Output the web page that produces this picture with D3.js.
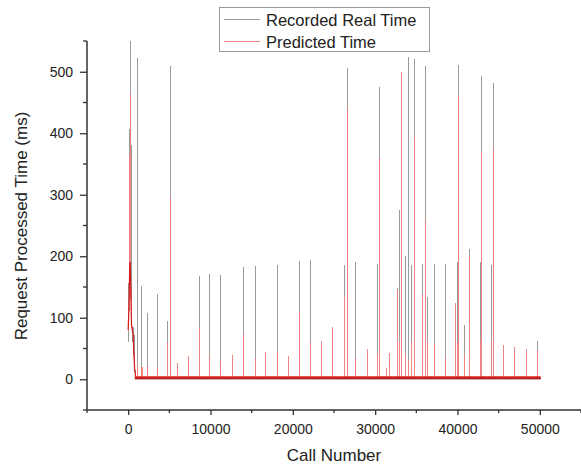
<!DOCTYPE html>
<html>
<head>
<meta charset="utf-8">
<script src="https://cdn.jsdelivr.net/npm/d3@7"></script>
<style>
  html, body { margin: 0; padding: 0; background: #fff; }
  svg { display: block; font-family: "Liberation Sans", Arial, sans-serif; }
</style>
</head>
<body>
<svg id="chart" width="581" height="464"></svg>
<script>
// ---------- data ----------
const seriesNames = ["Recorded Real Time", "Predicted Time"];

// start-up phase (call number, time in ms)
const realStartCalls = [0, 20, 100, 180, 250, 320, 380, 450, 550, 650, 720, 800, 900];
const realStartTimes = [60, 157, 110, 140, 550, 523, 191, 90, 60, 85, 70, 20, 4];
const predStartCalls = [0, 100, 200, 240, 320, 400, 500, 600, 700, 800, 900];
const predStartTimes = [80, 120, 190, 465, 150, 90, 80, 75, 40, 15, 5];

// spikes after start-up
const spikeCalls = [1180, 1580, 1700, 2390, 3560, 4770, 5100, 6050, 7360, 8620, 9910, 11250,
  12730, 14030, 15420, 16740, 18080, 19480, 20790, 22150, 23530, 24870, 26280, 26600,
  27640, 29030, 30340, 30560, 31350, 31760, 32700, 33000, 33200, 33700, 34000, 34400,
  34830, 35770, 36130, 36370, 37260, 38600, 39700, 39950, 40150, 40900, 41400, 42750,
  42950, 44150, 44340, 45580, 46950, 48330, 49700];
const realSpikeTimes = [522, 152, 10, 107, 139, 95, 510, 20, 30, 168, 171, 170,
  32, 183, 184, 35, 186, 30, 192, 194, 50, 60, 185, 506,
  191, 35, 188, 476, 10, 30, 149, 276, 60, 201, 524, 185,
  520, 188, 509, 133, 187, 188, 84, 190, 511, 88, 212, 190,
  493, 185, 481, 40, 38, 36, 63];
const predSpikeTimes = [25, 20, 20, 22, 20, 60, 296, 27, 38, 84, 40, 30,
  40, 75, 35, 45, 45, 38, 110, 62, 62, 85, 133, 443,
  35, 49, 40, 360, 18, 42, 145, 60, 500, 40, 30, 60,
  394, 139, 261, 60, 57, 36, 124, 60, 462, 40, 200, 63,
  370, 60, 378, 55, 52, 49, 47];

const realBase = 2;
const predBase = 3;
const lastCall = 50100;

// baseline noise envelope
const bandCalls = [800, 50100];
const bandLow = [0.5, 0.5];
const bandHigh = [5, 5];

const yTicksMajor = [0, 100, 200, 300, 400, 500];
const xTicksMajor = [0, 10000, 20000, 30000, 40000, 50000];

// ---------- chart ----------
const svg = d3.select("#chart");
const x = d3.scaleLinear().domain([-5000, 55000]).range([87, 581]);
const y = d3.scaleLinear().domain([-50, 550]).range([410, 41]);

function buildSeries(startCalls, startTimes, spikeVals, base) {
  const pts = startCalls.map((c, i) => [c, startTimes[i]]);
  spikeCalls.forEach((c, i) => {
    pts.push([c, base], [c, spikeVals[i]], [c, base]);
  });
  pts.push([lastCall, base]);
  return pts;
}
const realPts = buildSeries(realStartCalls, realStartTimes, realSpikeTimes, realBase);
const predPts = buildSeries(predStartCalls, predStartTimes, predSpikeTimes, predBase);

const line = d3.line().x(d => x(d[0])).y(d => y(d[1]));

const realColor = "#9a9a9a";
const predColor = "#f08484";

svg.append("path").datum(realPts)
  .attr("d", line).attr("fill", "none")
  .attr("stroke", realColor).attr("stroke-width", 1)
  .attr("shape-rendering", "crispEdges");

svg.append("path").datum(predPts)
  .attr("d", line).attr("fill", "none")
  .attr("stroke", predColor).attr("stroke-width", 1)
  .attr("shape-rendering", "crispEdges");

// dense start-up region appears dark red
svg.append("path").datum(predStartCalls.map((c, i) => [c, Math.min(predStartTimes[i], 190)]))
  .attr("d", line).attr("fill", "none")
  .attr("stroke", "#d21a1a").attr("stroke-width", 1.2);

// baseline band
const band = d3.area()
  .x((d, i) => x(bandCalls[i]))
  .y0((d, i) => y(bandLow[i]))
  .y1((d, i) => y(bandHigh[i]));
svg.append("path").datum(bandCalls)
  .attr("d", band).attr("fill", "#d42222");
svg.append("path").datum(bandCalls.map((c) => [c, bandLow[0]]))
  .attr("d", line).attr("fill", "none")
  .attr("stroke", "#901414").attr("stroke-width", 0.8);

// axes
const axisColor = "#333";
const yAxis = d3.axisLeft(y).tickValues(yTicksMajor).tickSize(7).tickPadding(7)
  .tickFormat(d3.format("d"));
const gy = svg.append("g").attr("transform", "translate(87,0)").call(yAxis);
gy.append("g").selectAll("line")
  .data(d3.range(-50, 551, 100))
  .join("line")
  .attr("x1", -4).attr("x2", 0)
  .attr("y1", d => y(d)).attr("y2", d => y(d))
  .attr("stroke", axisColor).attr("stroke-width", 1.3);

const xAxis = d3.axisBottom(x).tickValues(xTicksMajor).tickSize(5).tickPadding(9)
  .tickFormat(d3.format("d"));
const gx = svg.append("g").attr("transform", "translate(0,410)").call(xAxis);
gx.append("g").selectAll("line")
  .data(d3.range(-5000, 55001, 10000))
  .join("line")
  .attr("x1", d => x(d)).attr("x2", d => x(d))
  .attr("y1", 0).attr("y2", 3)
  .attr("stroke", axisColor).attr("stroke-width", 1.3);

[gx, gy].forEach(g => {
  g.select(".domain").attr("stroke", axisColor).attr("stroke-width", 1.5);
  g.selectAll(".tick line").attr("stroke", axisColor).attr("stroke-width", 1.3);
  g.selectAll(".tick text").attr("fill", "#222")
    .style("font-size", "14px").style("font-family", "'Liberation Sans', Arial, sans-serif");
});
gx.select(".domain").attr("d", "M87,0H581");
gy.select(".domain").attr("d", "M0,410V41");

// axis titles
svg.append("text")
  .attr("x", 334).attr("y", 461)
  .attr("text-anchor", "middle")
  .attr("fill", "#222").style("font-size", "17px")
  .text("Call Number");
svg.append("text")
  .attr("transform", "translate(27,226) rotate(-90)")
  .attr("text-anchor", "middle")
  .attr("fill", "#222").style("font-size", "17px")
  .text("Request Processed Time (ms)");

// legend
const lg = svg.append("g");
lg.append("rect").attr("x", 219.5).attr("y", 7.5).attr("width", 210).attr("height", 44)
  .attr("fill", "#fff").attr("stroke", "#999").attr("stroke-width", 1);
const legendColors = [realColor, predColor];
seriesNames.forEach((name, i) => {
  const ly = 19 + i * 22;
  lg.append("line").attr("x1", 224).attr("x2", 260).attr("y1", ly).attr("y2", ly)
    .attr("stroke", legendColors[i]).attr("stroke-width", 1)
    .attr("shape-rendering", "crispEdges");
  lg.append("text").attr("x", 266).attr("y", ly + 6.5)
    .attr("fill", "#222").style("font-size", "16.5px")
    .text(name);
});
</script>
</body>
</html>
